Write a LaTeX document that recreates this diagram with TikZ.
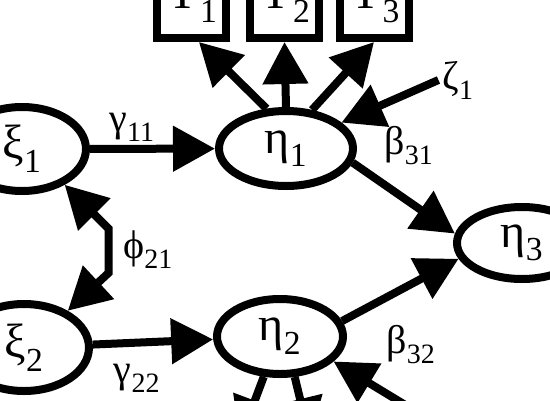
\documentclass[tikz,border=0pt]{standalone}
\usepackage{fontspec}
\setmainfont{Liberation Serif}
\usetikzlibrary{arrows.meta,shapes.geometric}

\begin{document}
\begin{tikzpicture}[x=1pt, y=-1pt, line width=8pt,
  >={Triangle[length=42pt,width=44pt]},
  lat/.style={draw, ellipse, inner sep=0pt, minimum width=#1, minimum height=75pt,
    font=\fontsize{48}{52}\selectfont},
  obs/.style={draw, rectangle, inner sep=0pt, minimum width=69pt, minimum height=76pt,
    font=\fontsize{48}{52}\selectfont},
  coef/.style={font=\fontsize{40}{44}\selectfont, inner sep=0pt}]
\clip (0,0) rectangle (550,400);
% indicators, cut by the top edge
\node[obs] (y1) at (191.5,0) {Y\textsubscript{1}};
\node[obs] (y2) at (284.5,0) {Y\textsubscript{2}};
\node[obs] (y3) at (374,0) {Y\textsubscript{3}};
% latent variables
\node[lat=128pt, minimum height=84pt] (xi1) at (22,149) {ξ\textsubscript{1}};
\node[lat=130pt, minimum height=87pt] (xi2) at (24,347.5) {ξ\textsubscript{2}};
\node[lat=134pt] (eta1) at (286,148.5) {η\textsubscript{1}};
\node[lat=126pt] (eta2) at (280,336.5) {η\textsubscript{2}};
\node[lat=130pt, minimum height=72pt] (eta3) at (522,243) {η\textsubscript{3}};
\node[coef] (zeta1) at (458,80) {ζ\textsubscript{1}};
% ends below the frame
\coordinate (y4) at (240,440);
\coordinate (y5) at (310,440);
\coordinate (zeta2) at (430,420);
% paths
\draw[->] (xi1) -- (eta1);
\draw[->] (xi2) -- (eta2);
\draw[<->] (xi1.-40) -- ++(44,44) -- ++(0,44) -- (xi2.40);
\draw[->] (eta1.-12) -- (eta3.172);
\draw[->] (eta2.14) -- (eta3.194);
\draw[->] (eta1.116) -- (y1.-80);
\draw[->] (eta1.90) -- (y2.south);
\draw[->] (eta1.56) -- (y3.south);
\draw[->] (zeta1.west) -- (eta1.25);
\draw[->] (eta2.-112) -- (y4);
\draw[->] (eta2.-70) -- (y5);
\draw[->] (zeta2) -- (eta2.-25);
% coefficients
\node[coef] (g11) at (132,127) {γ\textsubscript{11}};
\node[coef] (g22) at (137,378) {γ\textsubscript{22}};
\node[coef] (p21) at (148,250) {ϕ\textsubscript{21}};
\node[coef] (b31) at (409,146) {β\textsubscript{31}};
\node[coef] (b32) at (411,345) {β\textsubscript{32}};
\end{tikzpicture}
\end{document}
